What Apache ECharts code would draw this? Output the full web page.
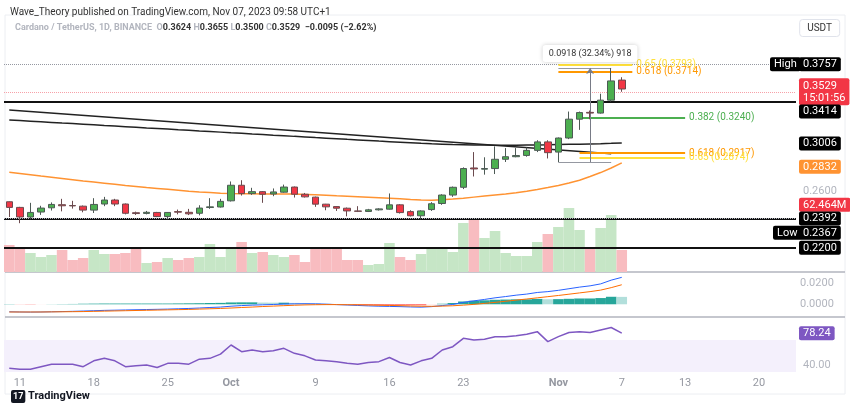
<!DOCTYPE html>
<html>
<head>
<meta charset="utf-8">
<script src="https://cdn.jsdelivr.net/npm/echarts@6/dist/echarts.min.js"></script>
<style>
  html, body { margin: 0; padding: 0; background: #fff; }
  #chart { width: 850px; height: 410px; }
</style>
</head>
<body>
<div id="chart"></div>
<script>
// --- data ---
const candles = [ // [open, close, low, high]
  [0.2523,0.2481,0.2411,0.2525],[0.2481,0.2411,0.2367,0.2485],[0.2411,0.2444,0.2395,0.2515],[0.2447,0.2476,0.2426,0.2493],
  [0.2478,0.2503,0.2458,0.2518],[0.2501,0.2493,0.2452,0.2545],[0.2495,0.2492,0.2472,0.2530],[0.2490,0.2461,0.2445,0.2495],
  [0.2461,0.2503,0.2440,0.2550],[0.2506,0.2536,0.2490,0.2560],[0.2536,0.2506,0.2490,0.2545],[0.2506,0.2438,0.2430,0.2510],
  [0.2442,0.2436,0.2426,0.2450],[0.2437,0.2445,0.2430,0.2455],[0.2444,0.2414,0.2410,0.2448],[0.2414,0.2444,0.2395,0.2447],
  [0.2450,0.2446,0.2430,0.2465],[0.2445,0.2434,0.2425,0.2470],[0.2438,0.2476,0.2423,0.2497],[0.2480,0.2485,0.2470,0.2550],
  [0.2484,0.2526,0.2480,0.2545],[0.2530,0.2650,0.2525,0.2680],[0.2650,0.2585,0.2570,0.2690],[0.2585,0.2600,0.2575,0.2630],
  [0.2600,0.2580,0.2515,0.2605],[0.2582,0.2598,0.2565,0.2625],[0.2596,0.2636,0.2592,0.2655],[0.2636,0.2580,0.2555,0.2640],
  [0.2580,0.2560,0.2555,0.2590],[0.2558,0.2505,0.2485,0.2562],[0.2505,0.2485,0.2460,0.2507],[0.2487,0.2475,0.2455,0.2490],
  [0.2475,0.2455,0.2416,0.2480],[0.2455,0.2452,0.2447,0.2490],[0.2451,0.2463,0.2447,0.2470],[0.2463,0.2470,0.2458,0.2475],
  [0.2468,0.2500,0.2465,0.2586],[0.2500,0.2443,0.2436,0.2505],[0.2450,0.2420,0.2415,0.2460],[0.2420,0.2455,0.2395,0.2460],
  [0.2465,0.2508,0.2455,0.2520],[0.2510,0.2574,0.2500,0.2580],[0.2574,0.2634,0.2560,0.2640],[0.2634,0.2785,0.2620,0.2795],
  [0.2790,0.2782,0.2720,0.2925],[0.2780,0.2785,0.2735,0.2880],[0.2785,0.2863,0.2740,0.2975],[0.2863,0.2885,0.2840,0.2960],
  [0.2885,0.2895,0.2880,0.2960],[0.2896,0.2940,0.2885,0.2965],[0.2940,0.3015,0.2925,0.3030],[0.3015,0.2920,0.2870,0.3030],
  [0.2925,0.3050,0.2839,0.3055],[0.3050,0.3226,0.3040,0.3300],[0.3226,0.3290,0.3125,0.3300],[0.3292,0.3285,0.3225,0.3310],
  [0.3285,0.3414,0.3280,0.3480],[0.3414,0.3615,0.3400,0.3757],[0.3624,0.3529,0.3500,0.3655]
];
const ema50 = [
  0.2755,0.2745,0.2735,0.2724,0.2714,0.2704,0.2694,0.2684,0.2675,0.2666,0.2657,0.2648,0.2640,0.2632,0.2625,0.2618,
  0.2611,0.2604,0.2598,0.2593,0.2588,0.2585,0.2584,0.2583,0.2582,0.2581,0.2581,0.2581,0.2579,0.2576,0.2572,0.2568,
  0.2565,0.2561,0.2557,0.2553,0.2549,0.2545,0.2540,0.2536,0.2535,0.2538,0.2543,0.2550,0.2558,0.2566,0.2574,0.2582,
  0.2592,0.2604,0.2617,0.2632,0.2648,0.2668,0.2690,0.2720,0.2752,0.2790,0.2832
];
const ema200 = [
  0.3219,0.3213,0.3207,0.3201,0.3195,0.3189,0.3184,0.3178,0.3172,0.3166,0.3161,0.3155,0.3149,0.3143,0.3138,0.3132,
  0.3126,0.3121,0.3115,0.3110,0.3104,0.3098,0.3093,0.3087,0.3082,0.3076,0.3071,0.3065,0.3060,0.3054,0.3049,0.3044,
  0.3038,0.3033,0.3028,0.3022,0.3017,0.3012,0.3007,0.3002,0.2998,0.2995,0.2992,0.2990,0.2988,0.2987,0.2986,0.2986,
  0.2986,0.2987,0.2988,0.2989,0.2991,0.2993,0.2995,0.2997,0.2999,0.3002,0.3006
];
const volume = [ // millions
  108,100,76,60,68,88,48,56,88,72,72,76,96,36,40,56,48,56,60,112,60,100,120,76,80,68,60,68,40,96,92,100,48,48,28,32,116,60,48,72,
  96,100,80,196,216,136,164,76,64,64,120,152,180,256,168,96,176,228,88
];
const macdLine = [
  -0.0070,-0.0072,-0.0073,-0.0072,-0.0070,-0.0068,-0.0066,-0.0063,-0.0060,-0.0057,-0.0055,-0.0053,-0.0051,-0.0049,-0.0047,-0.0045,-0.0042,-0.0039,-0.0035,-0.0030,-0.0026,
  -0.0018,-0.0012,-0.0008,-0.0005,-0.0002,0.0002,0.0004,0.0005,0.0004,0.0001,-0.0003,-0.0007,-0.0011,-0.0015,-0.0018,-0.0020,-0.0022,-0.0025,-0.0027,
  -0.0022,-0.0012,-0.0002,0.0018,0.0032,0.0045,0.0060,0.0072,0.0085,0.0095,0.0110,0.0118,0.0130,0.0145,0.0160,0.0172,0.0190,0.0225,0.0251
];
const signalLine = [
  -0.0072,-0.0072,-0.0072,-0.0072,-0.0071,-0.0070,-0.0069,-0.0068,-0.0066,-0.0064,-0.0062,-0.0060,-0.0058,-0.0056,-0.0054,-0.0052,-0.0050,-0.0048,-0.0045,-0.0042,-0.0039,
  -0.0035,-0.0030,-0.0026,-0.0021,-0.0017,-0.0013,-0.0009,-0.0006,-0.0004,-0.0003,-0.0003,-0.0004,-0.0005,-0.0007,-0.0009,-0.0011,-0.0013,-0.0016,-0.0018,
  -0.0019,-0.0017,-0.0014,-0.0008,-0.0001,0.0008,0.0018,0.0028,0.0039,0.0049,0.0060,0.0071,0.0082,0.0094,0.0106,0.0118,0.0132,0.0155,0.0182
];
const macdHist = [
  0.0002,-0.0001,-0.0002,-0.0001,0.0001,0.0002,0.0003,0.0005,0.0006,0.0007,0.0007,0.0007,0.0007,0.0007,0.0007,0.0007,0.0008,0.0009,0.0010,0.0012,0.0013,
  0.0017,0.0018,0.0018,0.0016,0.0015,0.0015,0.0013,0.0011,0.0008,0.0004,0.0000,-0.0003,-0.0006,-0.0008,-0.0009,-0.0009,-0.0009,-0.0009,-0.0009,
  -0.0003,0.0005,0.0012,0.0026,0.0033,0.0037,0.0042,0.0044,0.0046,0.0046,0.0050,0.0047,0.0048,0.0051,0.0054,0.0054,0.0058,0.0070,0.0069
];
const rsi = [
  36,35,35,38,41,41,41,38,45,48,45,38,39,40,37,42,42,41,47,48,53,
  64,56,58,56,57,60,54,51,46,45,44,42,41,43,44,49,43,40,45,
  48,58,62,72,70,71,74,74,75,77,80,68,74,79,80,79,82,85,78.24
];
const tickLabels = { '09-11':'11','09-18':'18','09-25':'25','10-01':'Oct','10-09':'9','10-16':'16','10-23':'23',
  '11-01':'Nov','11-07':'7','11-13':'13','11-20':'20' };

// category days Sep 10 .. Nov 23
const days = [];
for (let d = new Date(Date.UTC(2023, 8, 10)); days.length < 75; d.setUTCDate(d.getUTCDate() + 1)) {
  days.push(String(d.getUTCMonth() + 1).padStart(2, '0') + '-' + String(d.getUTCDate()).padStart(2, '0'));
}

const FONT = 'Roboto';
const UP = '#4caf50', DOWN = '#f23645';

function boxLabel(text, bg, color) {
  return { show: true, position: 'end', distance: 3, formatter: text, backgroundColor: bg,
    color: color || '#fff', padding: [2, 4, 1, 4], fontSize: 11, fontFamily: FONT, borderRadius: 2 };
}
function hLine(v, color, width, type, label) {
  return { yAxis: v, lineStyle: { color, width, type }, label: label || { show: false } };
}
function seg(a, b, v, color, text) {
  return [
    { coord: [a, v], lineStyle: { color, width: 2, type: 'solid' },
      label: text ? { show: true, position: 'end', formatter: text, color, fontSize: 10, fontFamily: FONT, distance: 4 } : { show: false } },
    { coord: [b, v] }
  ];
}
const hide = { color: 'transparent', width: 0 };

const volColors = candles.map(c => c[1] >= c[0] ? '#c6e6c6' : '#f8bcc0');
const histColors = macdHist.map((h, i) => {
  const prev = i ? macdHist[i - 1] : h;
  if (h >= 0) return h >= prev ? '#26a69a' : '#b2dfdb';
  return h <= prev ? '#ff5252' : '#ffcdd2';
});

const chart = echarts.init(document.getElementById('chart'));
const xBase = { type: 'category', data: days, boundaryGap: true, axisLine: { show: false },
  axisTick: { show: false }, axisLabel: { show: false }, splitLine: { show: false } };

chart.setOption({
  animation: false,
  backgroundColor: '#fff',
  textStyle: { fontFamily: FONT },
  title: [
    { text: 'Wave_Theory published on TradingView.com, Nov 07, 2023 09:58 UTC+1', left: 5, top: 2,
      textStyle: { fontSize: 10, fontWeight: 'normal', color: '#333' } },
    { text: '{g|Cardano / TetherUS, 1D, BINANCE  O}{v|0.3624}{g| H}{v|0.3655}{g| L}{v|0.3500}{g| C}{v|0.3529}{v|  −0.0095 (−2.62%)}',
      left: 10, top: 18, textStyle: { fontSize: 9, rich: { g: { color: '#b2b5be', fontSize: 9 }, v: { color: '#333', fontSize: 9 } } } },
    { text: 'USDT', right: 10, top: 19, padding: [4, 8], borderColor: '#e0e3eb', borderWidth: 1, borderRadius: 3,
      textStyle: { fontSize: 10, fontWeight: 'normal', color: '#333' } },
    { text: '{l|17} TradingView', left: 6, bottom: 2, textStyle: { fontSize: 11, fontWeight: 'bold', color: '#131722',
      rich: { l: { backgroundColor: '#131722', color: '#fff', fontSize: 9, padding: [2, 2], borderRadius: 2 } } } }
  ],
  graphic: [
    { type: 'rect', shape: { x: 5, y: 15, width: 840, height: 379 }, style: { fill: 'none', stroke: '#eceef2' }, silent: true },
    { type: 'line', shape: { x1: 5, y1: 272, x2: 845, y2: 272 }, style: { stroke: '#b2b5be', lineWidth: 1.5 } },
    { type: 'line', shape: { x1: 5, y1: 317, x2: 845, y2: 317 }, style: { stroke: '#b2b5be', lineWidth: 1.5 } }
  ],
  grid: [
    { left: 4, right: 54, top: 42, height: 230 },
    { left: 4, right: 54, top: 205, height: 67 },
    { left: 4, right: 54, top: 275, height: 40 },
    { left: 4, right: 54, top: 320, height: 52 }
  ],
  xAxis: [
    Object.assign({ gridIndex: 0 }, xBase),
    Object.assign({ gridIndex: 1 }, xBase),
    Object.assign({ gridIndex: 2 }, xBase),
    Object.assign({ gridIndex: 3 }, xBase, {
      axisLabel: { show: true, margin: 6, fontSize: 11, color: '#9598a1',
        interval: (i, v) => v in tickLabels,
        formatter: v => (tickLabels[v] === 'Oct' || tickLabels[v] === 'Nov') ? '{b|' + tickLabels[v] + '}' : (tickLabels[v] || ''),
        rich: { b: { fontWeight: 'bold', color: '#9598a1', fontSize: 11 } } }
    })
  ],
  yAxis: [
    { gridIndex: 0, type: 'log', logBase: Math.E, min: 0.2047, max: 0.4059, show: false },
    { gridIndex: 1, type: 'value', min: 0, max: 268, show: false },
    { gridIndex: 2, type: 'value', min: -0.01, max: 0.0273, interval: 0.01, position: 'right',
      axisLine: { show: false }, axisTick: { show: false }, splitLine: { show: false },
      axisLabel: { fontSize: 11, color: '#b2b5be', margin: 4, showMaxLabel: false,
        formatter: v => (Math.abs(v) < 1e-9 || Math.abs(v - 0.02) < 1e-9) ? v.toFixed(4) : '' } },
    { gridIndex: 3, type: 'value', min: 31.6, max: 94, show: false }
  ],
  series: [
    {
      name: 'Volume', type: 'bar', xAxisIndex: 1, yAxisIndex: 1, barCategoryGap: '0%',
      data: volume.map((v, i) => ({ value: v, itemStyle: { color: volColors[i] } }))
    },
    {
      name: 'EMA200', type: 'line', xAxisIndex: 0, yAxisIndex: 0, data: ema200, symbol: 'none',
      lineStyle: { color: '#222', width: 1.5 }, z: 3
    },
    {
      name: 'EMA50', type: 'line', xAxisIndex: 0, yAxisIndex: 0, data: ema50, symbol: 'none',
      lineStyle: { color: '#ff9332', width: 1.5 }, z: 3
    },
    {
      name: 'ADA', type: 'candlestick', xAxisIndex: 0, yAxisIndex: 0, data: candles, barWidth: 7, z: 5,
      itemStyle: { color: UP, color0: DOWN, borderColor: '#4d5a55', borderColor0: '#6b4a4e', borderWidth: 1 },
      markLine: {
        symbol: 'none', silent: true, animation: false,
        data: [
          hLine(0.3757, '#9598a1', 1, 'dotted', boxLabel('0.3757', '#000')),
          hLine(0.3757, hide.color, 0, 'solid', Object.assign(boxLabel('High', '#000'), { offset: [-29, 0] })),
          hLine(0.3529, '#f7a1a8', 1, 'dotted'),
          hLine(0.3490, hide.color, 0, 'solid', Object.assign(boxLabel('0.3529\n15:01:56', '#f23645'), { lineHeight: 12 })),
          hLine(0.3414, '#111', 2, 'solid'),
          hLine(0.3305, hide.color, 0, 'solid', boxLabel('0.3414', '#000')),
          hLine(0.3006, hide.color, 0, 'solid', boxLabel('0.3006', '#000')),
          hLine(0.2832, hide.color, 0, 'solid', boxLabel('0.2832', '#ff9332')),
          hLine(0.2600, hide.color, 0, 'solid', { show: true, position: 'end', distance: 7, formatter: '0.2600', color: '#b2b5be', fontSize: 11 }),
          hLine(0.2528, hide.color, 0, 'solid', boxLabel('62.464M', '#f23645')),
          hLine(0.2392, '#111', 2, 'solid', boxLabel('0.2392', '#000')),
          hLine(0.2367, '#b2b5be', 1, 'dotted'),
          hLine(0.2300, hide.color, 0, 'solid', boxLabel('0.2367', '#000')),
          hLine(0.2300, hide.color, 0, 'solid', Object.assign(boxLabel('Low', '#000'), { offset: [-26, 0] })),
          hLine(0.2200, '#111', 2, 'solid', boxLabel('0.2200', '#000')),
          // trend line
          [ { coord: ['09-10', 0.3316], lineStyle: { color: '#222', width: 1.5, type: 'solid' }, label: { show: false } },
            { coord: ['11-06', 0.2910] } ],
          // fib levels
          seg('11-01', '11-08', 0.3793, '#ffe03b', '0.65 (0.3793)'),
          seg('11-01', '11-08', 0.3714, '#ff9800', '0.618 (0.3714)'),
          seg('11-03', '11-13', 0.3240, '#4caf50', '0.382 (0.3240)'),
          seg('11-03', '11-13', 0.2917, '#ff9800', '0.618 (0.2917)'),
          seg('11-03', '11-13', 0.2874, '#ffe03b', '0.65 (0.2874)'),
          // measure tool
          [ { coord: ['11-01', 0.3757], lineStyle: { color: '#9598a1', width: 1, type: 'solid' }, label: { show: false } },
            { coord: ['11-06', 0.3757] } ],
          [ { coord: ['11-01', 0.2839], lineStyle: { color: '#9598a1', width: 1, type: 'solid' }, label: { show: false } },
            { coord: ['11-06', 0.2839] } ],
          [ { coord: ['11-04', 0.2839], symbol: 'none', lineStyle: { color: '#787b86', width: 1, type: 'solid' },
              label: { show: true, position: 'end', distance: 6, formatter: '0.0918 (32.34%) 918', fontSize: 9, color: '#333',
                backgroundColor: '#fff', padding: [4, 6], borderRadius: 3, shadowColor: 'rgba(0,0,0,0.2)', shadowBlur: 4 } },
            { coord: ['11-04', 0.3757], symbol: 'arrow', symbolSize: 6 } ]
        ]
      }
    },
    {
      name: 'Hist', type: 'bar', xAxisIndex: 2, yAxisIndex: 2, barCategoryGap: '0%',
      data: macdHist.map((v, i) => ({ value: v, itemStyle: { color: histColors[i] } }))
    },
    { name: 'MACD', type: 'line', xAxisIndex: 2, yAxisIndex: 2, data: macdLine, symbol: 'none',
      lineStyle: { color: '#2962ff', width: 1 } },
    { name: 'Signal', type: 'line', xAxisIndex: 2, yAxisIndex: 2, data: signalLine, symbol: 'none',
      lineStyle: { color: '#ff6d00', width: 1 } },
    {
      name: 'RSI', type: 'line', xAxisIndex: 3, yAxisIndex: 3, data: rsi, symbol: 'none',
      lineStyle: { color: '#7e57c2', width: 1.5 },
      markArea: { silent: true, itemStyle: { color: '#f4f0fc' }, data: [[{ yAxis: 70 }, { yAxis: 31.6 }]] },
      markLine: {
        symbol: 'none', silent: true,
        data: [
          hLine(78.24, hide.color, 0, 'solid', boxLabel('78.24', '#7e57c2')),
          hLine(40, hide.color, 0, 'solid', { show: true, position: 'end', distance: 7, formatter: '40.00', color: '#b2b5be', fontSize: 11 })
        ]
      }
    }
  ]
});
</script>
</body>
</html>
